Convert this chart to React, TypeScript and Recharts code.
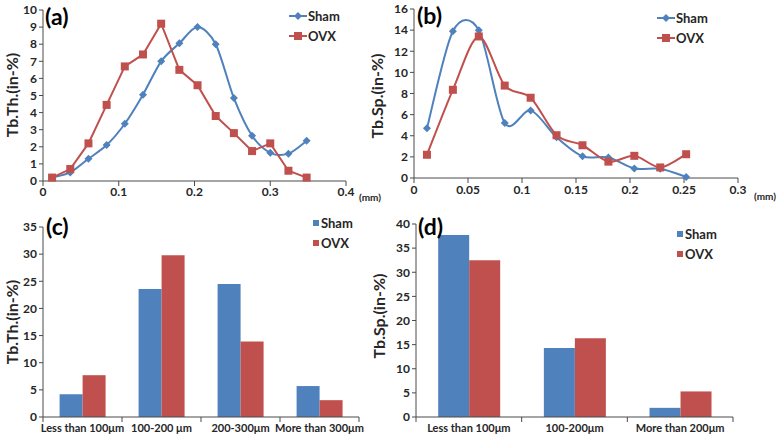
import React from "react";
import { LineChart, Line, BarChart, Bar, XAxis, YAxis } from "recharts";

// ---------- data ----------
const thicknessMm = [0.012, 0.036, 0.06, 0.084, 0.108, 0.132, 0.156, 0.18, 0.204, 0.228, 0.252, 0.276, 0.3, 0.324, 0.348];
const thShamPct = [0.2, 0.5, 1.3, 2.1, 3.35, 5.05, 7.0, 8.05, 9.0, 8.0, 4.85, 2.65, 1.65, 1.6, 2.35];
const thOvxPct = [0.2, 0.7, 2.2, 4.45, 6.7, 7.4, 9.2, 6.5, 5.6, 3.8, 2.8, 1.75, 2.2, 0.6, 0.2];

const spacingMm = [0.012, 0.036, 0.06, 0.084, 0.108, 0.132, 0.156, 0.18, 0.204, 0.228, 0.252];
const spShamPct = [4.7, 13.9, 14.0, 5.2, 6.4, 3.85, 2.05, 1.95, 0.9, 0.88, 0.1];
const spOvxPct = [2.2, 8.35, 13.4, 8.75, 7.6, 4.05, 3.1, 1.55, 2.1, 1.0, 2.25];

const thBins = ["Less than 100μm", "100-200 μm", "200-300μm", "More than 300μm"];
const thShamBin = [4.2, 23.6, 24.5, 5.7];
const thOvxBin = [7.7, 29.8, 13.9, 3.1];

const spBins = ["Less than 100μm", "100-200μm", "More than 200μm"];
const spShamBin = [37.7, 14.3, 1.9];
const spOvxBin = [32.5, 16.3, 5.3];

const ticksA_X = [0, 0.1, 0.2, 0.3, 0.4];
const ticksA_Y = [0, 1, 2, 3, 4, 5, 6, 7, 8, 9, 10];
const ticksB_X = [0, 0.05, 0.1, 0.15, 0.2, 0.25, 0.3];
const ticksB_Y = [0, 2, 4, 6, 8, 10, 12, 14, 16];
const ticksC_Y = [0, 5, 10, 15, 20, 25, 30, 35];
const ticksD_Y = [0, 5, 10, 15, 20, 25, 30, 35, 40];

// ---------- tables ----------
const dataA = thicknessMm.map((x, i) => ({ x, sham: thShamPct[i], ovx: thOvxPct[i] }));
const dataB = spacingMm.map((x, i) => ({ x, sham: spShamPct[i], ovx: spOvxPct[i] }));
const dataC = thBins.map((name, i) => ({ name, sham: thShamBin[i], ovx: thOvxBin[i] }));
const dataD = spBins.map((name, i) => ({ name, sham: spShamBin[i], ovx: spOvxBin[i] }));

// ---------- style ----------
const FONT = "Lato, 'Open Sans', 'DejaVu Sans', sans-serif";
const BLUE = "#4F81BD";
const RED = "#C0504D";
const AXIS = "#4a4a4a";
const TXT = "#262626";
const tickStyle = { fill: TXT, fontSize: 12, fontWeight: 700, fontFamily: FONT };
const catStyle = { fill: TXT, fontSize: 11, fontWeight: 700, fontFamily: FONT };

// Excel-like smoothed line (cardinal spline)
const SMOOTH_K = 0.15;
const smoothCurve: any = (context: any) => {
  let pts: number[][] = [];
  return {
    areaStart() {},
    areaEnd() {},
    lineStart() {
      pts = [];
    },
    point(x: number, y: number) {
      pts.push([+x, +y]);
    },
    lineEnd() {
      const n = pts.length;
      if (!n) return;
      context.moveTo(pts[0][0], pts[0][1]);
      if (n === 1) return;
      for (let i = 0; i < n - 1; i++) {
        const p0 = pts[i - 1] || pts[i];
        const p1 = pts[i];
        const p2 = pts[i + 1];
        const p3 = pts[i + 2] || pts[i + 1];
        context.bezierCurveTo(
          p1[0] + (p2[0] - p0[0]) * SMOOTH_K,
          p1[1] + (p2[1] - p0[1]) * SMOOTH_K,
          p2[0] - (p3[0] - p1[0]) * SMOOTH_K,
          p2[1] - (p3[1] - p1[1]) * SMOOTH_K,
          p2[0],
          p2[1]
        );
      }
    },
  };
};

const diamondDot = (color: string) => (p: any) => {
  const { cx, cy, index } = p;
  const r = 4;
  if (cx == null || cy == null) return <g key={`dn${index}`} />;
  return <path key={`dm${index}`} d={`M${cx},${cy - r}L${cx + r},${cy}L${cx},${cy + r}L${cx - r},${cy}Z`} fill={color} />;
};
const squareDot = (color: string) => (p: any) => {
  const { cx, cy, index } = p;
  const h = 4;
  if (cx == null || cy == null) return <g key={`sn${index}`} />;
  return <rect key={`sq${index}`} x={cx - h} y={cy - h} width={2 * h} height={2 * h} fill={color} />;
};

const makeCatTick = (band: number, n: number) => (props: any) => {
  const { x, y, payload, index } = props;
  const axisY = y - 7;
  return (
    <g>
      <line x1={x - band / 2} y1={axisY} x2={x - band / 2} y2={axisY + 5} stroke={AXIS} />
      {index === n - 1 ? <line x1={x + band / 2} y1={axisY} x2={x + band / 2} y2={axisY + 5} stroke={AXIS} /> : null}
      <text x={x} y={y} dy="0.71em" textAnchor="middle" {...catStyle}>
        {payload.value}
      </text>
    </g>
  );
};

const fmtNum = (v: number) => String(v);

const abs = (left: number, top: number): React.CSSProperties => ({ position: "absolute", left, top });

const PanelTag = ({ left, top, text }: { left: number; top: number; text: string }) => (
  <div style={{ ...abs(left, top), fontFamily: FONT, fontWeight: 700, fontSize: 23, lineHeight: "24px", color: "#000" }}>{text}</div>
);

const YTitle = ({ cx, cy, text }: { cx: number; cy: number; text: string }) => (
  <div
    style={{
      position: "absolute",
      left: cx,
      top: cy,
      transform: "translate(-50%, -50%) rotate(-90deg)",
      whiteSpace: "nowrap",
      fontFamily: FONT,
      fontWeight: 700,
      fontSize: 16,
      lineHeight: "16px",
      color: TXT,
    }}
  >
    {text}
  </div>
);

const Unit = ({ left, top }: { left: number; top: number }) => (
  <div style={{ ...abs(left, top), fontFamily: FONT, fontWeight: 700, fontSize: 10, lineHeight: "10px", color: TXT }}>(mm)</div>
);

const LineLegend = ({ left, top }: { left: number; top: number }) => (
  <div style={{ ...abs(left, top), fontFamily: FONT, fontWeight: 700, fontSize: 13, color: TXT, lineHeight: "20px" }}>
    <div style={{ display: "flex", alignItems: "center" }}>
      <svg width={18} height={10}>
        <line x1={0} y1={5} x2={18} y2={5} stroke={BLUE} strokeWidth={2} />
        <path d="M9,1L13,5L9,9L5,5Z" fill={BLUE} />
      </svg>
      <span style={{ marginLeft: 1 }}>Sham</span>
    </div>
    <div style={{ display: "flex", alignItems: "center" }}>
      <svg width={18} height={10}>
        <line x1={0} y1={5} x2={18} y2={5} stroke={RED} strokeWidth={2} />
        <rect x={5} y={1} width={8} height={8} fill={RED} />
      </svg>
      <span style={{ marginLeft: 1 }}>OVX</span>
    </div>
  </div>
);

const BarLegend = ({ left, top }: { left: number; top: number }) => (
  <div style={{ ...abs(left, top), fontFamily: FONT, fontWeight: 700, fontSize: 13, color: TXT, lineHeight: "20px" }}>
    <div style={{ display: "flex", alignItems: "center" }}>
      <svg width={6} height={6}>
        <rect x={0} y={0} width={6} height={6} fill={BLUE} />
      </svg>
      <span style={{ marginLeft: 2 }}>Sham</span>
    </div>
    <div style={{ display: "flex", alignItems: "center" }}>
      <svg width={6} height={6}>
        <rect x={0} y={0} width={6} height={6} fill={RED} />
      </svg>
      <span style={{ marginLeft: 2 }}>OVX</span>
    </div>
  </div>
);

// layout constants
const C_W = 390, C_ML = 43, C_MR = 31;
const D_W = 391, D_ML = 26, D_MR = 48;
const bandC = (C_W - C_ML - C_MR) / thBins.length;
const bandD = (D_W - D_ML - D_MR) / spBins.length;

export default function App() {
  return (
    <div style={{ position: "absolute", left: 0, top: 0, width: 781, height: 441, background: "#fff", overflow: "hidden" }}>
      {/* (a) */}
      <div style={abs(0, 0)}>
        <LineChart width={390} height={200} data={dataA} margin={{ top: 10, right: 44, bottom: 0, left: 0 }}>
          <XAxis
            dataKey="x"
            type="number"
            domain={[0, 0.4]}
            ticks={ticksA_X}
            tickFormatter={fmtNum}
            height={19}
            stroke={AXIS}
            tick={tickStyle}
            tickSize={5}
            tickMargin={1}
            interval={0}
          />
          <YAxis
            type="number"
            domain={[0, 10]}
            ticks={ticksA_Y}
            width={43}
            stroke={AXIS}
            tick={tickStyle}
            tickSize={4}
            tickMargin={2}
            interval={0}
          />
          <Line dataKey="sham" type={smoothCurve} stroke={BLUE} strokeWidth={2} dot={diamondDot(BLUE)} isAnimationActive={false} />
          <Line dataKey="ovx" type="linear" stroke={RED} strokeWidth={2} dot={squareDot(RED)} isAnimationActive={false} />
        </LineChart>
      </div>
      {/* (b) */}
      <div style={abs(390, 0)}>
        <LineChart width={391} height={200} data={dataB} margin={{ top: 9, right: 43, bottom: 0, left: 0 }}>
          <XAxis
            dataKey="x"
            type="number"
            domain={[0, 0.3]}
            ticks={ticksB_X}
            tickFormatter={fmtNum}
            height={22}
            stroke={AXIS}
            tick={tickStyle}
            tickSize={5}
            tickMargin={2}
            interval={0}
          />
          <YAxis
            type="number"
            domain={[0, 16]}
            ticks={ticksB_Y}
            width={24}
            stroke={AXIS}
            tick={tickStyle}
            tickSize={4}
            tickMargin={2}
            interval={0}
          />
          <Line dataKey="sham" type={smoothCurve} stroke={BLUE} strokeWidth={2} dot={diamondDot(BLUE)} isAnimationActive={false} />
          <Line dataKey="ovx" type={smoothCurve} stroke={RED} strokeWidth={2} dot={squareDot(RED)} isAnimationActive={false} />
        </LineChart>
      </div>
      {/* (c) */}
      <div style={abs(0, 200)}>
        <BarChart width={C_W} height={241} data={dataC} margin={{ top: 27, right: C_MR, bottom: 0, left: 0 }} barCategoryGap="21%" barGap={0}>
          <XAxis
            dataKey="name"
            height={24}
            stroke={AXIS}
            tickLine={false}
            tickSize={5}
            tickMargin={2}
            interval={0}
            tick={makeCatTick(bandC, thBins.length)}
          />
          <YAxis
            type="number"
            domain={[0, 35]}
            ticks={ticksC_Y}
            width={C_ML}
            stroke={AXIS}
            tick={tickStyle}
            tickSize={4}
            tickMargin={2}
            interval={0}
          />
          <Bar dataKey="sham" fill={BLUE} isAnimationActive={false} />
          <Bar dataKey="ovx" fill={RED} isAnimationActive={false} />
        </BarChart>
      </div>
      {/* (d) */}
      <div style={abs(390, 200)}>
        <BarChart width={D_W} height={241} data={dataD} margin={{ top: 24, right: D_MR, bottom: 0, left: 0 }} barCategoryGap="21%" barGap={0}>
          <XAxis
            dataKey="name"
            height={24}
            stroke={AXIS}
            tickLine={false}
            tickSize={5}
            tickMargin={2}
            interval={0}
            tick={makeCatTick(bandD, spBins.length)}
          />
          <YAxis
            type="number"
            domain={[0, 40]}
            ticks={ticksD_Y}
            width={D_ML}
            stroke={AXIS}
            tick={tickStyle}
            tickSize={4}
            tickMargin={2}
            interval={0}
          />
          <Bar dataKey="sham" fill={BLUE} isAnimationActive={false} />
          <Bar dataKey="ovx" fill={RED} isAnimationActive={false} />
        </BarChart>
      </div>

      <PanelTag left={45} top={4} text="(a)" />
      <PanelTag left={417} top={3} text="(b)" />
      <PanelTag left={46} top={214} text="(c)" />
      <PanelTag left={418} top={214} text="(d)" />

      <YTitle cx={12} cy={95} text="Tb.Th.(in-%)" />
      <YTitle cx={377} cy={96} text="Tb.Sp.(in-%)" />
      <YTitle cx={12} cy={322} text="Tb.Th.(in-%)" />
      <YTitle cx={379} cy={316} text="Tb.Sp.(in-%)" />

      <Unit left={359} top={192} />
      <Unit left={754} top={191} />

      <LineLegend left={289} top={6} />
      <LineLegend left={657} top={8} />
      <BarLegend left={313} top={213} />
      <BarLegend left={677} top={224} />
    </div>
  );
}
